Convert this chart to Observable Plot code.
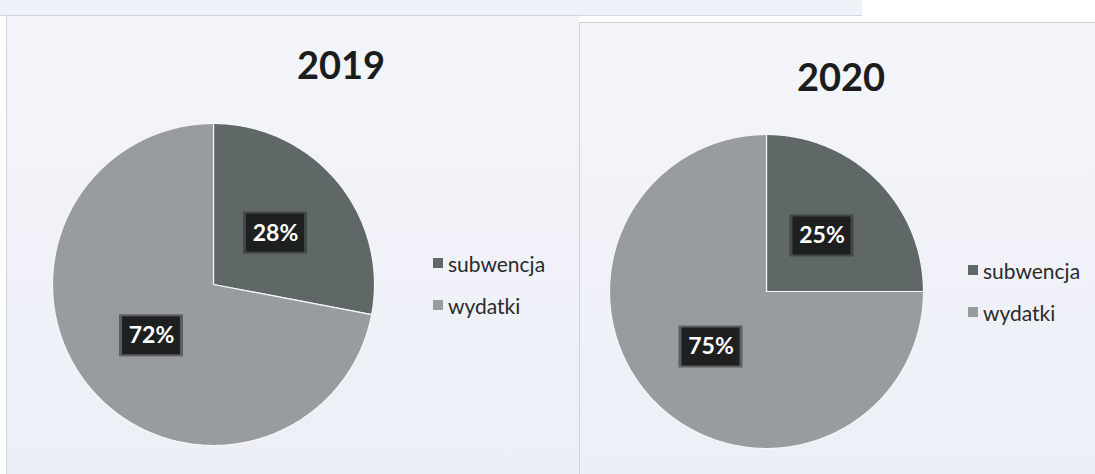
<!DOCTYPE html>
<html>
<head>
<meta charset="utf-8">
<script src="https://cdn.jsdelivr.net/npm/d3@7"></script>
<script src="https://cdn.jsdelivr.net/npm/@observablehq/plot@0.6"></script>
<style>
  html, body { margin: 0; padding: 0; background: #ffffff; }
  #root { position: relative; width: 1095px; height: 474px; overflow: hidden; font-family: Lato, "Open Sans", sans-serif; }
  .strip { position: absolute; left: 0; top: 0; width: 862px; height: 15px; background: #eef1f7; border-bottom: 1px solid #d3d7df; }
  .panel { position: absolute; background: linear-gradient(180deg, #f3f5fa 0%, #eceff6 100%); border-left: 1px solid #cfd3dc; border-top: 1px solid #cfd3dc; }
  .title { position: absolute; font-weight: bold; font-size: 38px; color: #1c1c1c; transform: translate(-50%, -50%); line-height: 1; }
  .legend { position: absolute; font-size: 21px; color: #2a2a2a; line-height: 1; }
  .legend .item { display: flex; align-items: center; height: 42px; }
  .legend .sw { width: 10px; height: 10px; margin-right: 5px; }
  .pie { position: absolute; }
</style>
</head>
<body>
<div id="root">
  <div class="strip"></div>
  <div class="panel" style="left:6px; top:15px; width:572px; height:460px;"></div>
  <div class="panel" style="left:579px; top:22px; width:520px; height:460px;"></div>
</div>
<script>
// ---- data ----
const years = ["2019", "2020"];
const categories = ["subwencja", "wydatki"];
const values2019 = [28, 72];
const values2020 = [25, 75];
const colors = ["#5f6866", "#989c9f"];

// ---- layout (pixels) ----
const layout = {
  "2019": {cx: 213, cy: 284, r: 161, titleX: 341, titleY: 64, legendX: 433, legendY: 242},
  "2020": {cx: 766, cy: 291, r: 157, titleX: 841, titleY: 76, legendX: 968, legendY: 249}
};
const seriesByYear = {"2019": values2019, "2020": values2020};

const root = document.getElementById("root");
const pad = 3;

for (const year of years) {
  const L = layout[year];
  const vals = seriesByYear[year];
  const rows = categories.map((c, i) => ({category: c, value: vals[i]}));
  const total = d3.sum(vals);
  const arcs = d3.pie().sort(null).value(d => d.value)(rows);

  // slice polygons in unit coordinates (angle clockwise from 12 o'clock)
  const pts = [];
  for (const a of arcs) {
    pts.push({category: a.data.category, x: 0, y: 0});
    const n = Math.max(2, Math.ceil((a.endAngle - a.startAngle) / (Math.PI / 360)));
    for (let k = 0; k <= n; k++) {
      const t = a.startAngle + (a.endAngle - a.startAngle) * k / n;
      pts.push({category: a.data.category, x: Math.sin(t), y: -Math.cos(t)});
    }
  }
  // labels at half radius on slice mid-angle
  const labels = arcs.map(a => {
    const m = (a.startAngle + a.endAngle) / 2;
    return {category: a.data.category, x: 0.5 * Math.sin(m), y: -0.5 * Math.cos(m),
            text: Math.round(a.data.value / total * 100) + "%"};
  });

  const size = 2 * L.r + 2 * pad;
  const chart = Plot.plot({
    width: size,
    height: size,
    margin: pad,
    x: {domain: [-1, 1], axis: null},
    y: {domain: [-1, 1], axis: null, reverse: true},
    color: {domain: categories, range: colors},
    style: {background: "transparent", fontFamily: "Lato, 'Open Sans', sans-serif", overflow: "visible"},
    marks: [
      Plot.line(pts, {x: "x", y: "y", z: "category", fill: "category", stroke: "#f4f6f8", strokeWidth: 1.2, curve: "linear-closed"}),
      Plot.rect(labels, {x1: "x", x2: "x", y1: "y", y2: "y", insetLeft: -32, insetRight: -32, insetTop: -21, insetBottom: -21, fill: "#2a2e2d", fillOpacity: 0.55}),
      Plot.rect(labels, {x1: "x", x2: "x", y1: "y", y2: "y", insetLeft: -29, insetRight: -29, insetTop: -19, insetBottom: -19, fill: "#1d201f"}),
      Plot.text(labels, {x: "x", y: "y", text: "text", fill: "white", fontSize: 23, fontWeight: "bold"})
    ]
  });
  chart.classList.add("pie");
  chart.style.left = (L.cx - L.r - pad) + "px";
  chart.style.top = (L.cy - L.r - pad) + "px";
  root.appendChild(chart);

  const title = document.createElement("div");
  title.className = "title";
  title.textContent = year;
  title.style.left = L.titleX + "px";
  title.style.top = L.titleY + "px";
  root.appendChild(title);

  const legend = document.createElement("div");
  legend.className = "legend";
  legend.style.left = L.legendX + "px";
  legend.style.top = L.legendY + "px";
  categories.forEach((c, i) => {
    const item = document.createElement("div");
    item.className = "item";
    const sw = document.createElement("span");
    sw.className = "sw";
    sw.style.background = colors[i];
    const tx = document.createElement("span");
    tx.textContent = c;
    item.appendChild(sw);
    item.appendChild(tx);
    legend.appendChild(item);
  });
  root.appendChild(legend);
}
</script>
</body>
</html>
